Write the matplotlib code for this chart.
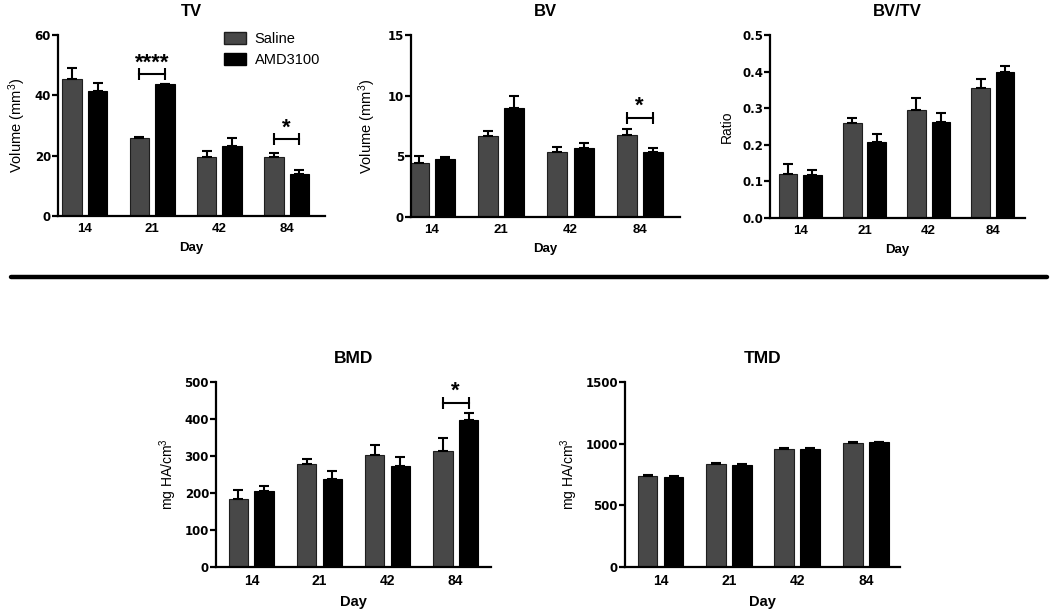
import numpy as np
import matplotlib.pyplot as plt
from matplotlib.lines import Line2D
import matplotlib.patches as mpatches

plt.rcParams['font.family'] = ['Liberation Sans', 'DejaVu Sans']
plt.rcParams['mathtext.default'] = 'regular'

days = ['14', '21', '42', '84']

# TV
tv_saline = [45.4, 26.0, 19.4, 19.4]
tv_saline_err = [3.6, 0.2, 2.1, 1.6]
tv_amd = [41.5, 43.6, 23.1, 13.9]
tv_amd_err = [2.5, 0.2, 2.9, 1.2]

# BV
bv_saline = [4.43, 6.7, 5.33, 6.75]
bv_saline_err = [0.57, 0.42, 0.43, 0.49]
bv_amd = [4.78, 9.0, 5.66, 5.38]
bv_amd_err = [0.19, 1.0, 0.41, 0.33]

# BV/TV
bvtv_saline = [0.121, 0.259, 0.294, 0.355]
bvtv_saline_err = [0.027, 0.014, 0.033, 0.024]
bvtv_amd = [0.118, 0.208, 0.261, 0.399]
bvtv_amd_err = [0.012, 0.022, 0.025, 0.016]

# BMD
bmd_saline = [183, 278, 303, 314]
bmd_saline_err = [25, 14, 27, 34]
bmd_amd = [205, 238, 272, 398]
bmd_amd_err = [14, 21, 26, 17]

# TMD
tmd_saline = [738, 838, 959, 1008]
tmd_saline_err = [9, 6, 6, 6]
tmd_amd = [730, 827, 959, 1010]
tmd_amd_err = [6, 8, 6, 5]

saline_col = '#484848'
amd_col = '#000000'
W = 0.29
OFF = 0.19


def panel(rect, title, sal, sal_err, amd, amd_err, ylim, yticks, ylabel, xlim,
          yfmt=None, title_size=12, ylab_size=10.5, ylab_pad=6, xt_size=9.5,
          yt_size=8.5, day_size=9.5):
    ax = fig.add_axes(rect)
    x = np.arange(len(days))
    ekw = dict(ecolor='black', elinewidth=1.5, capsize=3.8, capthick=1.5)
    ax.bar(x - OFF, sal, W, color=saline_col, edgecolor='#1e1e1e', linewidth=0.8,
           yerr=[np.zeros(4), sal_err], error_kw=ekw)
    ax.bar(x + OFF, amd, W, color=amd_col, edgecolor='black', linewidth=0.8,
           yerr=[np.zeros(4), amd_err], error_kw=ekw)
    ax.set_xlim(*xlim)
    ax.set_ylim(*ylim)
    ax.set_yticks(yticks)
    if yfmt:
        ax.set_yticklabels([yfmt.format(v) for v in yticks])
    ax.set_xticks(x)
    ax.set_xticklabels(days)
    for s in ['top', 'right']:
        ax.spines[s].set_visible(False)
    for s in ['left', 'bottom']:
        ax.spines[s].set_linewidth(1.6)
    ax.tick_params(axis='x', length=0, pad=5)
    ax.tick_params(axis='y', length=4, width=1.6, pad=1)
    for lab in ax.get_xticklabels():
        lab.set_fontweight('bold')
        lab.set_fontsize(xt_size)
    for lab in ax.get_yticklabels():
        lab.set_fontweight('bold')
        lab.set_fontsize(yt_size)
        lab.set_family('DejaVu Sans')
    ax.set_xlabel('Day', fontweight='bold', fontsize=day_size, labelpad=5)
    ax.set_ylabel(ylabel, fontsize=ylab_size, labelpad=ylab_pad)
    ax.set_title(title, fontweight='bold', fontsize=title_size, pad=14)
    return ax


def sig(ax, i, y, star, sy):
    ax.plot([i - OFF, i + OFF], [y, y], color='black', lw=1.5,
            marker='|', markersize=8, markeredgewidth=1.5)
    ax.text(i, sy, star, ha='center', va='center', fontsize=16, fontweight='bold')


fig = plt.figure(figsize=(10.5, 6.09), dpi=100)

ax1 = panel([0.0552, 0.6453, 0.2543, 0.2972], 'TV', tv_saline, tv_saline_err,
            tv_amd, tv_amd_err, (0, 60), [0, 20, 40, 60], 'Volume (mm$^3$)',
            (-0.4, 3.57), ylab_pad=5)
sig(ax1, 1, 47, '****', 50.5)
sig(ax1, 3, 25.4, '*', 29)
h1 = mpatches.Patch(facecolor=saline_col, edgecolor='#1e1e1e', label='Saline')
h2 = mpatches.Patch(facecolor=amd_col, edgecolor='black', label='AMD3100')
ax1.legend(handles=[h1, h2], loc='upper right', bbox_to_anchor=(1.03, 1.09),
           frameon=False, fontsize=10.5, handlelength=1.5, handleheight=0.85,
           handletextpad=0.6, labelspacing=0.5)

ax2 = panel([0.3914, 0.6437, 0.2562, 0.2988], 'BV', bv_saline, bv_saline_err,
            bv_amd, bv_amd_err, (0, 15), [0, 5, 10, 15], 'Volume (mm$^3$)',
            (-0.3, 3.58), ylab_size=10.5, ylab_pad=7)
sig(ax2, 3, 8.17, '*', 9.1)

ax3 = panel([0.7333, 0.642, 0.2429, 0.3005], 'BV/TV', bvtv_saline, bvtv_saline_err,
            bvtv_amd, bvtv_amd_err, (0, 0.5), [0, 0.1, 0.2, 0.3, 0.4, 0.5], 'Ratio',
            (-0.47, 3.5), yfmt='{:.1f}', ylab_size=10, ylab_pad=6)

ax4 = panel([0.2057, 0.069, 0.2619, 0.3037], 'BMD', bmd_saline, bmd_saline_err,
            bmd_amd, bmd_amd_err, (0, 500), [0, 100, 200, 300, 400, 500],
            'mg HA/cm$^3$', (-0.52, 3.52), title_size=12.5, ylab_size=10,
            ylab_pad=4, xt_size=10, day_size=10.5)
sig(ax4, 3, 443, '*', 476)

ax5 = panel([0.5952, 0.069, 0.2619, 0.3037], 'TMD', tmd_saline, tmd_saline_err,
            tmd_amd, tmd_amd_err, (0, 1500), [0, 500, 1000, 1500],
            'mg HA/cm$^3$', (-0.52, 3.5), title_size=12.5, ylab_size=10,
            ylab_pad=4, xt_size=10, day_size=10.5)

# separator line between rows
fig.add_artist(Line2D([0.01, 0.997], [1 - 277 / 609, 1 - 277 / 609],
                      color='black', lw=3.2, solid_capstyle='round'))

fig.savefig('out.png', dpi=100)
